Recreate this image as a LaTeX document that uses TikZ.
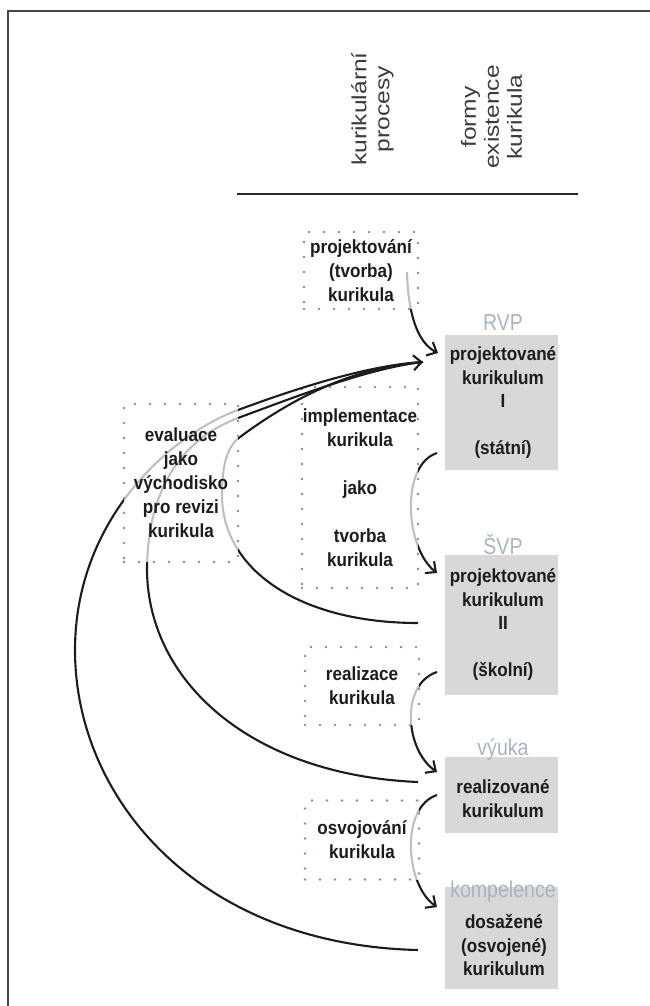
\documentclass[tikz,border=0pt]{standalone}
\usepackage{fontspec}
\usetikzlibrary{arrows.meta,backgrounds}
\newfontfamily\condfont{Liberation Sans}[FakeStretch=0.9]
\newfontfamily\headfont{Liberation Sans}[FakeStretch=1.2]
\newfontfamily\labfont{Liberation Sans}[FakeStretch=0.85]
\definecolor{boxgray}{RGB}{216,216,216}
\definecolor{dotcol}{RGB}{125,146,170}
\definecolor{labcol}{RGB}{168,180,192}
\definecolor{inkcol}{RGB}{28,28,30}
\definecolor{headcol}{RGB}{60,60,64}
\definecolor{framecol}{RGB}{70,70,70}
\definecolor{rulecol}{RGB}{30,40,50}
\tikzset{
  procbox/.style={draw=dotcol, line width=2.8bp, dash pattern=on 0bp off 15bp,
    line cap=round, fill=white, fill opacity=0.72, text opacity=1, inner sep=0,
    align=center, text=inkcol,
    font=\condfont\bfseries\fontsize{19bp}{24bp}\selectfont},
  formbox/.style={fill=boxgray, draw=none, inner sep=0, minimum width=113bp},
  formtxt/.style={inner sep=0, align=center, text=inkcol,
    font=\condfont\bfseries\fontsize{19bp}{23.5bp}\selectfont},
  formlab/.style={inner sep=0, text=labcol,
    font=\labfont\fontsize{23bp}{24bp}\selectfont},
  headtxt/.style={inner sep=0, rotate=90, align=center, text=headcol,
    font=\headfont\fontsize{20.5bp}{23bp}\selectfont},
  conn/.style={draw=inkcol, line width=2.1bp},
  arr/.style={conn, -{Straight Barb[length=8bp,width=15bp]}},
}
\begin{document}
\begin{tikzpicture}[x=1bp,y=-1bp]
\useasboundingbox (0,0) rectangle (650,1006);
% frame
\draw[framecol, line width=1.6bp] (8,1006) -- (8,11) -- (650,11);
% header
\node[headtxt] (h1) at (372.5,109) {kurikulární\\procesy};
\node[headtxt] (h2) at (491.5,117) {formy\\existence\\kurikula};
\coordinate (rl) at (237,194);
\coordinate (rr) at (578,194);
\draw[rulecol, line width=2.6bp] (rl) -- (rr);

% form boxes (grey)
\node[formbox, minimum height=135bp] (A) at (501.5,402.5) {};
\node[formtxt] (At) at (503,402.5) {projektované\\kurikulum\\I\\[23.5bp](státní)};
\node[formlab] (Al) at (503,323) {RVP};

\node[formbox, minimum height=140bp] (B) at (501.5,625) {};
\node[formtxt] (Bt) at (503,624.5) {projektované\\kurikulum\\II\\[23.5bp](školní)};
\node[formlab] (Bl) at (503,545) {ŠVP};

\node[formbox, minimum height=76bp] (C) at (501.5,795) {};
\node[formtxt] (Ct) at (503,798.5) {realizované\\kurikulum};
\node[formlab] (Cl) at (503,749) {výuka};

\node[formbox, minimum height=102bp] (D) at (501.5,938) {};
\node[formtxt] (Dt) at (504,945) {dosažené\\(osvojené)\\kurikulum};
\node[formlab] (Dl) at (503,892) {kompelence};

% process boxes (dotted)
\node[procbox, minimum width=114bp, minimum height=77bp] (p1) at (361,270.5)
  {projektování\\(tvorba)\\kurikula};
\node[procbox, minimum width=116bp, minimum height=201bp] (p2) at (360,487.5)
  {implementace\\kurikula\\[24bp]jako\\[24bp]tvorba\\kurikula};
\node[procbox, minimum width=114bp, minimum height=78bp] (p3) at (362,686)
  {realizace\\kurikula};
\node[procbox, minimum width=114bp, minimum height=79bp] (p4) at (362,840)
  {osvojování\\kurikula};

% connector end points
\coordinate (s1) at (407,272);
\coordinate (t1) at (438,353);
\coordinate (sAB) at (437,453);
\coordinate (tAB) at (437,573);
\coordinate (sBC) at (437,672);
\coordinate (tBC) at (437,772);
\coordinate (sCD) at (437,795);
\coordinate (tCD) at (437,907);
\coordinate (eB) at (418,623);
\coordinate (eC) at (418,782);
\coordinate (eD) at (418,950);
\coordinate (tipA) at (423,362);

% arrows between the forms (under the dotted boxes)
\begin{scope}[on background layer]
  \draw[arr] (s1) .. controls (408,315) and (418,343) .. (t1);
  \draw[arr] (sAB) .. controls (400,465) and (405,548) .. (tAB);
  \draw[arr] (sBC) .. controls (400,684) and (405,750) .. (tBC);
  \draw[arr] (sCD) .. controls (400,807) and (405,885) .. (tCD);
\end{scope}

% evaluation loops (under the evaluation box)
\draw[conn] (eD) .. controls (200,945) and (75,800) .. (75,650)
             .. controls (75,520) and (170,435) .. (238,410)
             .. controls (300,387) and (370,365) .. (tipA);
\draw[conn] (eC) .. controls (250,775) and (145,680) .. (147,565)
             .. controls (149,490) and (180,440) .. (238,418)
             .. controls (300,395) and (370,368) .. (tipA);
\draw[arr] (eB) .. controls (300,623) and (222,570) .. (222,495)
             .. controls (222,468) and (226,447) .. (240,437)
             .. controls (290,400) and (350,368) .. (tipA);

\node[procbox, minimum width=114bp, minimum height=158bp] (ev) at (181,483)
  {evaluace\\jako\\východisko\\pro revizi\\kurikula};
\end{tikzpicture}
\end{document}
